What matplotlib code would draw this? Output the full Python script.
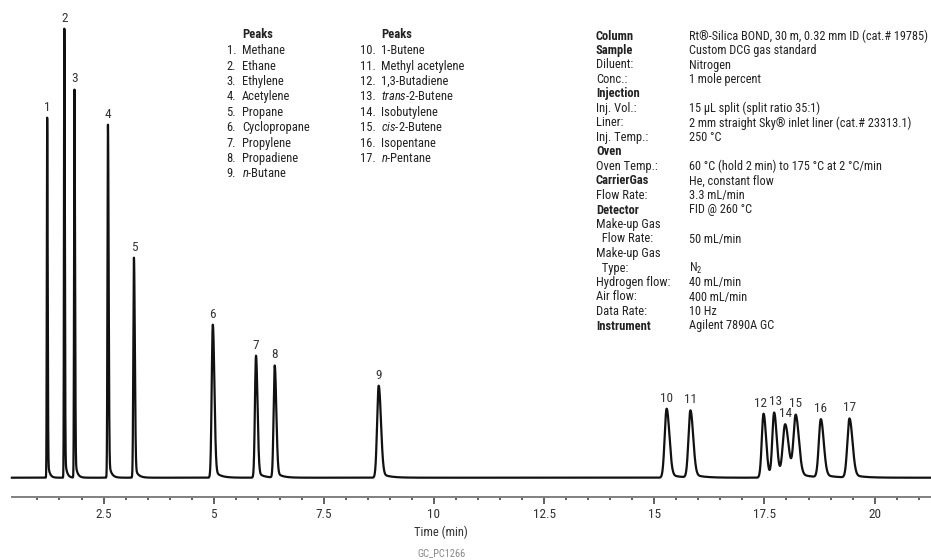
import numpy as np
import matplotlib.pyplot as plt

FONT = 'Roboto Condensed'
plt.rcParams['font.family'] = [FONT, 'DejaVu Sans']
plt.rcParams['mathtext.fontset'] = 'custom'
plt.rcParams['mathtext.rm'] = FONT
plt.rcParams['mathtext.it'] = FONT + ':italic'
plt.rcParams['mathtext.bf'] = FONT + ':bold'

# peaks: retention time (min), height, width (sigma, min)
rt = np.array([1.22, 1.61, 1.84, 2.60, 3.19, 4.98, 5.96, 6.385, 8.745,
               15.28, 15.82, 17.48, 17.72, 17.97, 18.21, 18.78, 19.43])
height = np.array([360, 449, 388, 353, 220, 153, 122, 112, 92,
                   69, 67, 64, 64, 52, 61, 58, 59])
sigma = np.array([0.008, 0.008, 0.009, 0.011, 0.014, 0.025, 0.024, 0.025, 0.036,
                  0.044, 0.044, 0.040, 0.041, 0.054, 0.050, 0.046, 0.048])

names = ['Methane', 'Ethane', 'Ethylene', 'Acetylene', 'Propane', 'Cyclopropane',
         'Propylene', 'Propadiene', r'$\mathit{n}$-Butane', '1-Butene',
         'Methyl acetylene', '1,3-Butadiene', r'$\mathit{trans}$-2-Butene',
         'Isobutylene', r'$\mathit{cis}$-2-Butene', 'Isopentane',
         r'$\mathit{n}$-Pentane']

cond_labels = ['Column', 'Sample', 'Diluent:', 'Conc.:', 'Injection', 'Inj. Vol.:',
               'Liner:', 'Inj. Temp.:', 'Oven', 'Oven Temp.:', 'CarrierGas',
               'Flow Rate:', 'Detector', 'Make-up Gas', '  Flow Rate:',
               'Make-up Gas', '  Type:', 'Hydrogen flow:', 'Air flow:',
               'Data Rate:', 'Instrument']
cond_values = ['Rt®-Silica BOND, 30 m, 0.32 mm ID (cat.# 19785)',
               'Custom DCG gas standard', 'Nitrogen', '1 mole percent', '',
               '15 µL split (split ratio 35:1)',
               '2 mm straight Sky® inlet liner (cat.# 23313.1)', '250 °C', '',
               '60 °C (hold 2 min) to 175 °C at 2 °C/min', 'He, constant flow',
               '3.3 mL/min', 'FID @ 260 °C', '', '50 mL/min', '', 'N$_2$',
               '40 mL/min', '400 mL/min', '10 Hz', 'Agilent 7890A GC']
cond_bold = ['Column', 'Sample', 'Injection', 'Oven', 'CarrierGas', 'Detector',
             'Instrument']

# build the trace from tailing peaks
t = np.arange(0.42, 21.3, 0.0005)
signal = np.zeros_like(t)
for r, h, s in zip(rt, height, sigma):
    sr = s * 1.4
    dt = t - r
    g = np.where(dt < 0, np.exp(-dt**2 / (2 * s**2)), np.exp(-dt**2 / (2 * sr**2)))
    tail = np.where(dt > 0, 0.06 * np.exp(-np.clip(dt, 0, None) / (5 * s)) * (1 - g), 0)
    signal += h * (g + tail)

W, H = 931, 560
fig = plt.figure(figsize=(W / 100, H / 100), dpi=100)
ax = fig.add_axes([0, 1 - 497.3 / H, 1, 497.3 / H])
ax.plot(t, signal, color='#111111', lw=1.6, solid_joinstyle='round')
ax.set_xlim(6.6 / 44.06, (W + 6.6) / 44.06)
ax.set_ylim(-19.6, 477.7)

for s in ['top', 'left', 'right']:
    ax.spines[s].set_visible(False)
ax.spines['bottom'].set_color('#808080')
ax.spines['bottom'].set_linewidth(1.4)
ax.spines['bottom'].set_bounds(0.42, 21.28)
major = [2.5, 5, 7.5, 10, 12.5, 15, 17.5, 20]
ax.set_xticks(major)
ax.set_xticklabels(['2.5', '5', '7.5', '10', '12.5', '15', '17.5', '20'])
ax.set_xticks([m for m in np.arange(1, 21.1, 0.5) if m not in major], minor=True)
ax.set_yticks([])
ax.tick_params(which='major', length=5, width=1.2, color='#444444',
               labelsize=9.5, pad=3, labelcolor='#333333')
ax.tick_params(which='minor', length=2.5, width=1.2, color='#444444')

# peak numbers; the crowded ones get a small sideways nudge
nudge = {12: -3, 13: 1}
for i, (r, h) in enumerate(zip(rt, height)):
    idx = np.argmin(np.abs(t - r))
    ax.annotate(str(i + 1), (r, signal[idx]), xytext=(nudge.get(i + 1, 0) * 0.72, 3),
                textcoords='offset points', ha='center', va='bottom',
                fontsize=9.5, color='#333333')


def ftext(x, y, s, **kw):
    fig.text(x / W, 1 - y / H, s, va='center', color='#222222', **kw)


fig.text(441 / W, 1 - 532 / H, 'Time (min)', ha='center', va='center',
         fontsize=9, color='#333333')
fig.text(441 / W, 1 - 553 / H, 'GC_PC1266', ha='center', va='center',
         fontsize=7.5, color='#888888')

# peak list, two columns
row_y = 50.7
for col, (x_num, x_name, ids) in enumerate([(236, 242, range(0, 9)),
                                             (376, 381, range(9, 17))]):
    ftext(x_name, 34, 'Peaks', fontsize=9, fontweight='bold')
    for k, i in enumerate(ids):
        y = row_y + k * 15.4
        ftext(x_num, y, f'{i + 1}.', fontsize=9, ha='right')
        ftext(x_name, y, names[i], fontsize=9)

# instrument conditions
for k, (lab, val) in enumerate(zip(cond_labels, cond_values)):
    y = 36 + k * 14.5
    ftext(596, y, lab, fontsize=9, fontweight='bold' if lab in cond_bold else 'normal')
    if val:
        ftext(689, y, val, fontsize=8.8)

fig.savefig('out.png', dpi=100)
